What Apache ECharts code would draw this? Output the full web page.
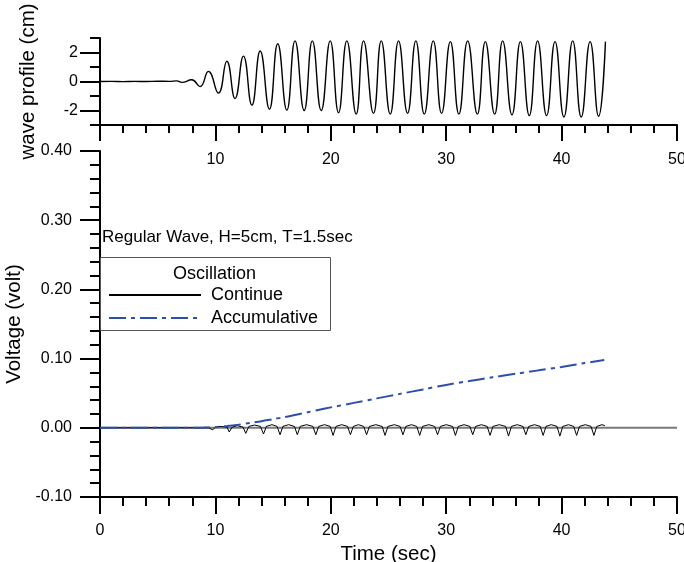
<!DOCTYPE html>
<html><head><meta charset="utf-8">
<script src="https://cdn.jsdelivr.net/npm/echarts@6/dist/echarts.min.js"></script>
<style>html,body{margin:0;padding:0;background:#fff}#c{width:684px;height:562px}</style>
</head><body><div id="c"></div>
<script>
// ---- data ----
const timeTicks = [0, 10, 20, 30, 40, 50];
const waveMajorTicks = [-2, 0, 2];
const voltTicks = [-0.10, 0.00, 0.10, 0.20, 0.30, 0.40];

const waveTime = [0, 1, 2, 3, 4, 5, 6, 6.65, 7.1, 7.95, 8.67, 9.39, 10.26, 10.99, 11.7, 12.43, 13.16, 13.88, 14.68, 15.4, 16.19, 16.9, 17.69, 18.4, 19.17, 19.95, 20.67, 21.39, 22.2, 22.84, 23.7, 24.37, 25.15, 25.87, 26.65, 27.37, 28.1, 28.88, 29.6, 30.36, 31.1, 31.86, 32.7, 33.39, 34.2, 34.89, 35.7, 36.43, 37.2, 37.92, 38.7, 39.43, 40.2, 40.96, 41.7, 42.47, 43.2, 43.8];
const waveHeight = [0, 0.01, -0.01, 0.01, 0, 0.02, 0.01, 0.04, -0.06, 0.12, -0.35, 0.7, -0.8, 1.4, -1.17, 1.75, -1.63, 2.1, -1.91, 2.6, -1.98, 2.8, -2.0, 2.8, -2.0, 2.8, -2.15, 2.8, -2.25, 2.8, -2.2, 2.8, -2.25, 2.8, -2.2, 2.8, -2.25, 2.8, -2.2, 2.75, -2.25, 2.8, -2.25, 2.75, -2.25, 2.8, -2.3, 2.75, -2.35, 2.8, -2.35, 2.75, -2.45, 2.8, -2.45, 2.75, -2.4, 2.75];

const contTime = [0, 9.4, 9.77, 10.0, 10.5, 11.0, 11.2, 11.45, 11.9, 12.4, 12.63, 12.9, 13.4, 13.9, 14.17, 14.42, 14.9, 15.35,
  15.6, 15.85, 16.35, 16.85, 17.1, 17.35, 17.9, 18.45, 18.7, 18.95, 19.45, 19.95, 20.2, 20.45, 20.95, 21.45,
  21.7, 21.95, 22.4, 22.85, 23.1, 23.35, 23.9, 24.45, 24.7, 24.95, 25.5, 26.0, 26.25, 26.5, 27.0, 27.45,
  27.7, 27.95, 28.5, 29.0, 29.25, 29.5, 30.0, 30.55, 30.8, 31.05, 31.55, 32.05, 32.3, 32.55, 33.05, 33.55,
  33.8, 34.05, 34.6, 35.15, 35.4, 35.65, 36.15, 36.65, 36.9, 37.15, 37.65, 38.15, 38.4, 38.65, 39.1, 39.6,
  39.85, 40.1, 40.6, 41.05, 41.3, 41.55, 42.05, 42.55, 42.8, 43.05, 43.5, 43.75];
const contVolt = [0, 0, -0.003, 0.001, 0.002, 0.001, -0.006, 0.001, 0.003, 0.001, -0.008, 0.002, 0.004, 0.002, -0.009, 0.002, 0.0045, 0.002,
  -0.010, 0.002, 0.0045, 0.002, -0.010, 0.002, 0.0045, 0.002, -0.010, 0.002, 0.0045, 0.002, -0.011, 0.002, 0.0045, 0.002,
  -0.010, 0.002, 0.0045, 0.002, -0.010, 0.002, 0.0045, 0.002, -0.011, 0.002, 0.0045, 0.002, -0.010, 0.002, 0.0045, 0.002,
  -0.011, 0.002, 0.0045, 0.002, -0.010, 0.002, 0.0045, 0.002, -0.011, 0.002, 0.0045, 0.002, -0.010, 0.002, 0.0045, 0.002,
  -0.011, 0.002, 0.0045, 0.002, -0.012, 0.002, 0.0045, 0.002, -0.010, 0.002, 0.0045, 0.002, -0.011, 0.002, 0.0045, 0.002,
  -0.012, 0.002, 0.0045, 0.002, -0.011, 0.002, 0.0045, 0.002, -0.011, 0.002, 0.0045, 0.003];

const accTime = [0, 8, 9, 10, 11, 12, 13, 14, 15, 16, 17, 18, 19, 20, 22, 24, 26, 28, 30, 32, 34, 36, 38, 40, 42, 43.7];
const accVolt = [0, 0, 0.0003, 0.001, 0.0025, 0.0045, 0.007, 0.0095, 0.0125, 0.0155, 0.019, 0.0225, 0.026, 0.0295, 0.036, 0.0425, 0.049, 0.0555, 0.062, 0.0675, 0.073, 0.078, 0.083, 0.088, 0.0935, 0.098];

const zeroTime = [0, 50];
const zeroVolt = [0, 0];

const pair = (xs, ys) => xs.map((x, i) => [x, ys[i]]);

const FONT = 'Liberation Sans';
const axisLine = { onZero: false, lineStyle: { color: '#000', width: 2 } };

const chart = echarts.init(document.getElementById('c'), null, { renderer: 'canvas' });
chart.setOption({
  animation: false,
  textStyle: { fontFamily: FONT, color: '#000' },
  grid: [
    { left: 100, top: 38, width: 577, height: 87, outerBoundsMode: 'none', containLabel: false },
    { left: 100, top: 151, width: 577, height: 346, outerBoundsMode: 'none', containLabel: false }
  ],
  xAxis: [
    { type: 'value', gridIndex: 0, min: timeTicks[0], max: timeTicks[timeTicks.length - 1], interval: 10,
      axisLine: axisLine, splitLine: { show: false },
      axisTick: { inside: false, length: 16, lineStyle: { width: 2, color: '#000' } },
      minorTick: { show: true, splitNumber: 5, length: 8, lineStyle: { width: 2, color: '#000' } },
      axisLabel: { margin: 27, fontSize: 16, fontFamily: FONT, color: '#000', formatter: v => v === 0 ? '' : String(v) } },
    { type: 'value', gridIndex: 1, min: timeTicks[0], max: timeTicks[timeTicks.length - 1], interval: 10,
      axisLine: axisLine, splitLine: { show: false },
      axisTick: { inside: false, length: 17, lineStyle: { width: 2, color: '#000' } },
      minorTick: { show: true, splitNumber: 5, length: 9, lineStyle: { width: 2, color: '#000' } },
      axisLabel: { margin: 26, fontSize: 16, fontFamily: FONT, color: '#000', formatter: v => String(v) },
      name: 'Time (sec)', nameLocation: 'middle', nameGap: 42,
      nameTextStyle: { fontSize: 20.5, fontFamily: FONT, color: '#000' } }
  ],
  yAxis: [
    { type: 'value', gridIndex: 0, min: -3, max: 3, interval: 2,
      axisLine: axisLine, splitLine: { show: false },
      axisTick: { length: 10, lineStyle: { width: 2, color: '#000' } },
      axisLabel: { show: false } },
    { type: 'value', gridIndex: 0, min: -3, max: 3, position: 'left',
      axisLine: { show: false, onZero: false }, splitLine: { show: false },
      axisTick: { show: true, length: 20, customValues: waveMajorTicks, lineStyle: { width: 2, color: '#000' } },
      axisLabel: { show: true, margin: 22, customValues: waveMajorTicks, fontSize: 16, fontFamily: FONT, color: '#000' },
      name: 'wave profile (cm)', nameLocation: 'middle', nameGap: 61,
      nameTextStyle: { fontSize: 20.5, fontFamily: FONT, color: '#000' } },
    { type: 'value', gridIndex: 1, min: voltTicks[0], max: voltTicks[voltTicks.length - 1], interval: 0.1,
      axisLine: axisLine, splitLine: { show: false },
      axisTick: { length: 20, lineStyle: { width: 2, color: '#000' } },
      minorTick: { show: true, splitNumber: 5, length: 10, lineStyle: { width: 2, color: '#000' } },
      axisLabel: { margin: 28, fontSize: 16, fontFamily: FONT, color: '#000',
        formatter: v => Math.abs(v) < 1e-9 ? '0.00' : v.toFixed(2) },
      name: 'Voltage (volt)', nameLocation: 'middle', nameGap: 74,
      nameTextStyle: { fontSize: 20.5, fontFamily: FONT, color: '#000' } }
  ],
  legend: {
    data: ['Continue', 'Accumulative'],
    orient: 'vertical', left: 108, top: 286, padding: 0, itemGap: 5,
    itemWidth: 92, itemHeight: 14,
    itemStyle: { opacity: 0 },
    textStyle: { fontSize: 18, fontFamily: FONT, color: '#000', padding: [0, 0, 0, 5] }
  },
  graphic: [
    { type: 'rect', shape: { x: 100.5, y: 257.5, width: 230, height: 73 }, style: { fill: 'rgba(0,0,0,0)', stroke: '#555', lineWidth: 1 }, z: 100 },
    { type: 'text', left: 102, top: 229, style: { text: 'Regular Wave, H=5cm, T=1.5sec', font: '17px "Liberation Sans"', fill: '#000' }, z: 100 },
    { type: 'text', left: 173, top: 265, style: { text: 'Oscillation', font: '18px "Liberation Sans"', fill: '#000' }, z: 100 }
  ],
  series: [
    { type: 'line', xAxisIndex: 0, yAxisIndex: 0, data: pair(waveTime, waveHeight), symbol: 'none', smooth: 0.5,
      lineStyle: { color: '#000', width: 1.4 }, itemStyle: { color: '#000' }, silent: true },
    { type: 'line', name: '_zero', xAxisIndex: 1, yAxisIndex: 2, data: pair(zeroTime, zeroVolt), symbol: 'none',
      lineStyle: { color: '#7a7a7a', width: 2 }, silent: true },
    { type: 'line', name: 'Continue', xAxisIndex: 1, yAxisIndex: 2, data: pair(contTime, contVolt), symbol: 'none',
      lineStyle: { color: '#000', width: 1 }, itemStyle: { color: '#000' } },
    { type: 'line', name: 'Accumulative', xAxisIndex: 1, yAxisIndex: 2, data: pair(accTime, accVolt), symbol: 'none', smooth: 0.3,
      lineStyle: { color: '#2d4fab', width: 2, type: [17, 5, 4, 5] }, itemStyle: { color: '#2d4fab' } }
  ]
});
</script>
</body></html>
